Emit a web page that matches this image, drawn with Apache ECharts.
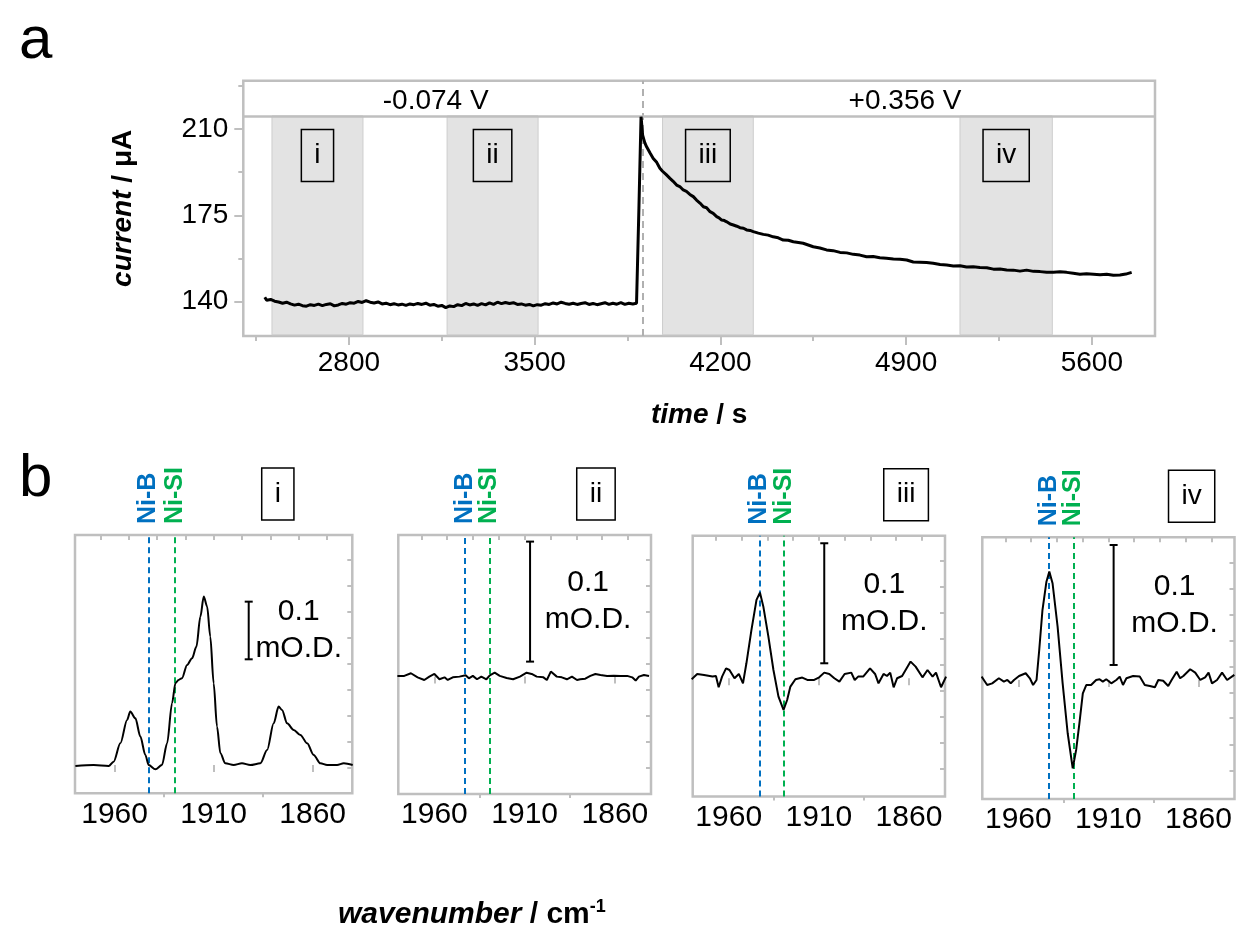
<!DOCTYPE html>
<html>
<head>
<meta charset="utf-8">
<script src="https://cdn.jsdelivr.net/npm/echarts@6/dist/echarts.min.js"></script>
<style>
  html, body { margin: 0; padding: 0; background: #fff; }
  #chart { width: 1236px; height: 929px; }
</style>
</head>
<body>
<div id="chart"></div>
<script>
// ---- panel a: current transient ----
var timeS = [
  2483, 2490, 2505, 2520, 2535, 2550, 2565, 2580, 2595, 2610,
  2625, 2640, 2655, 2670, 2685, 2700, 2715, 2730, 2745, 2760,
  2775, 2790, 2805, 2820, 2835, 2850, 2865, 2880, 2895, 2910,
  2925, 2940, 2955, 2970, 2985, 3000, 3015, 3030, 3045, 3060,
  3075, 3090, 3105, 3120, 3135, 3150, 3165, 3180, 3195, 3210,
  3225, 3240, 3255, 3270, 3285, 3300, 3315, 3330, 3345, 3360,
  3375, 3390, 3405, 3420, 3435, 3450, 3465, 3480, 3495, 3510,
  3525, 3540, 3555, 3570, 3585, 3600, 3615, 3630, 3645, 3660,
  3675, 3690, 3705, 3720, 3735, 3750, 3765, 3780, 3795, 3810,
  3825, 3840, 3855, 3870, 3884, 3893, 3901, 3907, 3915, 3922,
  3935, 3947, 3960, 3972, 3982, 3995, 4010, 4022, 4035, 4047,
  4060, 4072, 4085, 4098, 4110, 4123, 4136, 4148, 4161, 4173,
  4186, 4195, 4205, 4215, 4224, 4237, 4249, 4262, 4274, 4287,
  4299, 4312, 4324, 4343, 4362, 4380, 4399, 4418, 4437, 4456,
  4475, 4494, 4512, 4531, 4550, 4575, 4600, 4625, 4651, 4676,
  4701, 4726, 4751, 4776, 4801, 4826, 4852, 4877, 4902, 4927,
  4952, 4977, 5002, 5028, 5053, 5078, 5103, 5128, 5153, 5178,
  5204, 5229, 5254, 5279, 5304, 5329, 5354, 5380, 5405, 5430,
  5455, 5480, 5505, 5530, 5555, 5580, 5606, 5631, 5656, 5681,
  5706, 5728, 5750
];
var currentUA = [
  141.8, 140.6, 140.9, 140.2, 139.9, 139.4, 139.8, 139.1, 138.6, 139.0,
  138.4, 138.2, 138.8, 138.5, 139.0, 138.4, 138.9, 139.2, 138.3, 138.7,
  139.3, 139.0, 139.6, 139.4, 140.1, 139.7, 140.4, 139.8, 139.5, 139.9,
  139.1, 139.4, 138.8, 139.2, 138.7, 139.0, 138.5, 139.1, 138.8, 139.3,
  138.9, 139.4, 138.6, 138.9, 138.2, 138.5, 137.6, 138.3, 138.0, 138.8,
  138.4, 139.3, 138.7, 139.1, 138.5, 139.2, 138.7, 139.5, 138.9, 139.8,
  139.2, 139.7, 139.3, 139.6, 138.9, 139.1, 138.6, 138.9, 138.3, 138.8,
  138.6, 139.2, 138.9, 139.5, 139.1, 139.8, 139.3, 139.0, 139.4, 138.9,
  139.3, 139.6, 138.9, 139.3, 138.8, 139.2, 139.6, 138.9, 139.4, 139.0,
  139.6, 138.9, 139.4, 139.1, 139.4, 178.0, 215.0, 207.5, 204.5, 202.8,
  200.3, 198.1, 196.5, 194.1, 192.9, 191.6, 190.0, 188.8, 187.3, 186.7,
  185.3, 184.7, 183.5, 182.6, 181.2, 180.0, 178.5, 178.1, 176.5, 175.8,
  174.5, 174.0, 173.1, 172.9, 172.4, 171.5, 171.1, 170.6, 170.0, 169.8,
  169.1, 168.9, 168.4, 167.8, 167.3, 167.0, 166.3, 165.9, 165.0, 164.9,
  164.3, 164.0, 163.7, 163.0, 162.3, 161.8, 161.0, 160.7, 160.0, 159.8,
  159.2, 158.9, 158.2, 158.3, 157.8, 157.6, 157.3, 157.2, 156.9, 156.1,
  156.0, 155.9, 155.6, 155.1, 154.9, 154.5, 154.6, 154.1, 154.2, 153.9,
  153.8, 153.2, 153.3, 152.9, 152.8, 152.4, 152.8, 152.3, 152.2, 151.9,
  151.9, 152.1, 151.9, 151.5, 151.1, 151.3, 151.1, 150.9, 151.1, 150.7,
  150.8, 151.2, 151.9
];
var stepTime = 3908;
var windows = [[2510, 2853, 'i'], [3170, 3513, 'ii'], [3982, 4324, 'iii'], [5103, 5451, 'iv']];
var potentials = [[3127, '-0.074 V'], [4896, '+0.356 V']];
var timeMajor = [2800, 3500, 4200, 4900, 5600];
var timeMinor = [2450, 3150, 3850, 4550, 5250];
var currentMajor = [140, 175, 210];
var currentMinor = [157.5, 192.5, 227.5];

// ---- panel b: IR difference spectra (mO.D.) ----
var wnI = [1979.8, 1970.6, 1963.0, 1960.5, 1957.1, 1953.7, 1952.1, 1949.5, 1947.0, 1944.5,
  1942.8, 1939.4, 1936.1, 1933.5, 1931.0, 1929.3, 1927.7, 1926.0, 1923.4, 1920.9,
  1918.7, 1916.7, 1915.0, 1913.3, 1911.7, 1910.0, 1908.3, 1906.6, 1904.1, 1899.9,
  1895.7, 1891.5, 1886.4, 1883.0, 1879.7, 1877.2, 1875.5, 1872.9, 1869.6, 1866.2,
  1862.8, 1859.5, 1856.1, 1852.7, 1847.7, 1844.3, 1839.8];
var odI = [-0.0017, 0, -0.0017, 0.0058, 0.0376, 0.0781, 0.0926, 0.0810, 0.0492, 0.0174,
  0, -0.0075, 0, 0.0376, 0.1071, 0.1418, 0.1476, 0.1505, 0.1736, 0.1852,
  0.2054, 0.2575, 0.2922, 0.2749, 0.2228, 0.1418, 0.0666, 0.0203, 0.0029, 0,
  0.0029, 0, 0.0029, 0.0260, 0.0723, 0.1013, 0.0955, 0.0723, 0.0608, 0.0521,
  0.0376, 0.0174, 0.0029, 0, 0, 0.0029, 0];

var wnII = [1980.5, 1976.7, 1973.0, 1969.3, 1965.6, 1962.8, 1960.0, 1957.2, 1954.4, 1952.6,
  1949.8, 1946.1, 1942.7, 1940.9, 1938.7, 1936.4, 1934.0, 1931.2, 1929.3, 1926.6,
  1923.8, 1920.0, 1916.4, 1912.6, 1908.9, 1906.1, 1903.3, 1899.6, 1897.7, 1895.5,
  1892.2, 1889.4, 1886.6, 1883.8, 1881.0, 1879.2, 1876.4, 1873.6, 1870.8, 1868.0,
  1864.3, 1860.6, 1856.9, 1853.2, 1850.4, 1848.5, 1846.7, 1843.9, 1841.1];
var odII = [0.0006, 0.0006, 0.0028, -0.0006, -0.0028, 0, 0.0022, -0.0022, -0.0006, -0.0028,
  -0.0006, 0, 0.0011, -0.0014, 0.0006, -0.0022, 0, -0.0022, 0.0011, 0.0033,
  0.0006, -0.0011, -0.0022, 0, 0.0033, 0.0022, 0, -0.0006, -0.0028, 0.0042,
  0, -0.0006, -0.0022, 0, -0.0028, -0.0022, -0.0017, 0.0006, 0.0022, 0.0014,
  0.0006, 0.0008, 0.0006, 0.0006, -0.0006, -0.0033, 0, 0.0014, 0.0006];

var wnIII = [1980.6, 1977.5, 1973.7, 1969.0, 1967.1, 1965.6, 1963.7, 1961.5, 1959.6, 1956.8,
  1954.4, 1952.1, 1950.2, 1947.4, 1944.6, 1942.7, 1940.8, 1938.0, 1935.2, 1932.4,
  1929.6, 1927.6, 1925.8, 1923.0, 1919.2, 1916.4, 1912.6, 1909.8, 1907.0, 1904.2,
  1901.4, 1898.6, 1895.7, 1892.0, 1890.1, 1888.2, 1885.4, 1881.6, 1878.8, 1876.9,
  1874.1, 1872.2, 1870.4, 1868.5, 1866.6, 1863.8, 1859.1, 1856.3, 1852.5, 1849.7,
  1846.9, 1845.0, 1842.2, 1839.4];
var odIII = [-0.0008, 0.0036, 0.0028, 0.0014, 0.0019, -0.0075, 0.0014, 0.0083, 0.0069, 0,
  0.0036, -0.0042, 0.0125, 0.0403, 0.0653, 0.0714, 0.0597, 0.0347, 0.0069, -0.0153,
  -0.0264, -0.0181, -0.0069, -0.0008, 0.0006, -0.0014, -0.0014, 0.0008, 0.0047, 0.0036,
  0, -0.0028, 0.0036, 0.0047, -0.0014, 0.0014, 0.0014, 0.0083, 0.0036, -0.0042,
  0.0036, 0.0019, 0.0047, -0.0075, 0, 0.0019, 0.0139, 0.0097, 0.0008, 0.0069,
  0.0014, 0.0047, -0.0075, 0.0014];

var wnIV = [1980.4, 1977.3, 1974.5, 1970.8, 1968.0, 1966.1, 1964.2, 1962.4, 1959.6, 1955.9,
  1953.6, 1951.8, 1949.9, 1948.4, 1946.6, 1944.4, 1942.8, 1941.0, 1938.2, 1935.4,
  1932.6, 1929.8, 1927.9, 1926.1, 1924.2, 1922.3, 1919.6, 1916.8, 1914.9, 1913.1,
  1911.2, 1908.4, 1905.6, 1903.7, 1901.9, 1900.0, 1896.3, 1892.6, 1889.8, 1887.0,
  1884.2, 1882.3, 1879.6, 1876.8, 1874.9, 1872.1, 1870.2, 1868.4, 1864.6, 1861.8,
  1859.0, 1856.3, 1854.4, 1852.5, 1849.7, 1846.9, 1844.1, 1840.1];
var odIV = [0.0028, -0.0042, -0.0028, 0.0014, -0.0014, 0, -0.0028, 0, 0.0033, 0.0056,
  0.0014, -0.0042, 0, 0.025, 0.0583, 0.0819, 0.0903, 0.0806, 0.0444, -0.0028,
  -0.0444, -0.0736, -0.0583, -0.0361, -0.0111, -0.0042, -0.0042, 0, 0.0006, -0.0014,
  0.0006, -0.0028, 0, 0.0028, -0.0042, 0.0014, 0.0033, 0.0028, -0.0042, -0.005,
  -0.0061, 0, -0.0006, -0.005, 0, 0.0069, 0.0014, 0.0033, 0.0089, 0.0061,
  0, 0.0022, 0.0061, -0.0028, 0, 0.0061, 0, 0.0042];

var niB = 1943, niSI = 1929.5;
var wnMajor = [1960, 1910, 1860];
var wnMinor = [1935, 1885];
var wnTop = [1967.1, 1952.9, 1938.6, 1924.3, 1910, 1895.7, 1881.4, 1867.1, 1852.9];
var odTicksI = [0.3555, 0.3104, 0.2654, 0.2203, 0.1752, 0.1301, 0.0850, 0.0399, -0.0052];
var odTicksII = [0.0972, 0.0755, 0.0538, 0.0322, 0.0105, -0.0112, -0.0328, -0.0545, -0.0762];
var odTicksIII = [0.0980, 0.0763, 0.0546, 0.0330, 0.0113, -0.0104, -0.0320, -0.0537, -0.0754];
var odTicksIV = [0.0981, 0.0764, 0.0547, 0.0331, 0.0114, -0.0103, -0.0319, -0.0536, -0.0753];

var FONT = '"Liberation Sans", Arial, sans-serif';
var GRAY = '#bfbfbf';
var BLUE = '#0070c0';
var GREEN = '#00b050';
var CLEAR = 'rgba(0,0,0,0)';
var headerLevel = 215.3;

var panels = [
  { wn: wnI, od: odI, tag: 'i', yMin: -0.0491, yMax: 0.3989, ticks: odTicksI, bar: [1892.3, 0.1833, 50], boxX: 1877.6, smooth: 0.3,
    grid: { left: 75, top: 535, width: 277.3, height: 258.3 } },
  { wn: wnII, od: odII, tag: 'ii', yMin: -0.0978, yMax: 0.118, ticks: odTicksII, bar: [1907, 0.0125, 58], boxX: 1870.5, smooth: false,
    grid: { left: 398.3, top: 535, width: 252.7, height: 259 } },
  { wn: wnIII, od: odIII, tag: 'iii', yMin: -0.0985, yMax: 0.1188, ticks: odTicksIII, bar: [1907, 0.0125, 60], boxX: 1861.6, smooth: false,
    grid: { left: 692.7, top: 535.7, width: 252.3, height: 260.8 } },
  { wn: wnIV, od: odIV, tag: 'iv', yMin: -0.0992, yMax: 0.1189, ticks: odTicksIV, bar: [1907.1, 0.0125, 61], boxX: 1863.8, smooth: false,
    grid: { left: 982.3, top: 537.3, width: 252.2, height: 261.7 } }
];

function plain(v) { return String(v); }

var chart = echarts.init(document.getElementById('chart'));

var grids = [{ left: 243.3, top: 80.7, width: 911.7, height: 255.3, show: true, borderColor: GRAY, borderWidth: 2.5 }];
var xAxes = [
  { gridIndex: 0, type: 'value', position: 'bottom', min: 2402, max: 5838, axisLine: { show: false }, splitLine: { show: false },
    axisTick: { customValues: timeMajor, length: 9, lineStyle: { color: GRAY, width: 2 } },
    axisLabel: { customValues: timeMajor, formatter: plain, fontSize: 28, color: '#000', margin: 13 },
    name: '{it|time} / s', nameLocation: 'middle', nameGap: 65,
    nameTextStyle: { fontSize: 28, fontWeight: 'bold', color: '#000',
      rich: { it: { fontSize: 28, fontWeight: 'bold', fontStyle: 'italic', color: '#000' } } } },
  { gridIndex: 0, type: 'value', position: 'bottom', min: 2402, max: 5838, axisLine: { show: false }, splitLine: { show: false },
    axisTick: { customValues: timeMinor, length: 5, lineStyle: { color: GRAY, width: 2 } },
    axisLabel: { show: false } }
];
var yAxes = [
  { gridIndex: 0, type: 'value', position: 'left', min: 126.1, max: 229.6, axisLine: { show: false }, splitLine: { show: false },
    axisTick: { customValues: currentMajor, length: 9, lineStyle: { color: GRAY, width: 2 } },
    axisLabel: { customValues: currentMajor, formatter: plain, fontSize: 28, color: '#000', margin: 15 },
    name: '{it|current} / \u03bcA', nameLocation: 'middle', nameGap: 106, nameRotate: 90,
    nameTextStyle: { fontSize: 28, fontWeight: 'bold', color: '#000',
      rich: { it: { fontSize: 28, fontWeight: 'bold', fontStyle: 'italic', color: '#000' } } } },
  { gridIndex: 0, type: 'value', position: 'left', min: 126.1, max: 229.6, axisLine: { show: false }, splitLine: { show: false },
    axisTick: { customValues: currentMinor, length: 5, lineStyle: { color: GRAY, width: 2 } },
    axisLabel: { show: false } }
];

var series = [
  {
    type: 'line', xAxisIndex: 0, yAxisIndex: 0, z: 5,
    data: timeS.map(function (t, i) { return [t, currentUA[i]]; }),
    symbol: 'none', lineStyle: { color: '#000', width: 3 },
    markArea: {
      silent: true, label: { show: false },
      itemStyle: { color: '#e3e3e3', borderColor: '#cdcdcd', borderWidth: 1 },
      data: windows.map(function (w) { return [{ xAxis: w[0], yAxis: 126.6 }, { xAxis: w[1], yAxis: headerLevel }]; })
    },
    markLine: {
      silent: true, symbol: 'none', label: { show: false },
      data: [
        { xAxis: stepTime, lineStyle: { type: [7, 5], color: '#b0b0b0', width: 2 } },
        { yAxis: headerLevel, lineStyle: { type: 'solid', color: GRAY, width: 2.5 } }
      ]
    }
  },
  {
    type: 'scatter', xAxisIndex: 0, yAxisIndex: 0, silent: true, clip: false, z: 6,
    symbolSize: 2, itemStyle: { color: CLEAR, opacity: 1 },
    data: windows.map(function (w) { return [(w[0] + w[1]) / 2, 199.3, w[2]]; }),
    label: { show: true, position: 'inside', formatter: function (p) { return p.data[2]; },
      fontSize: 28, color: '#000', lineHeight: 32, borderColor: '#000', borderWidth: 1.5, padding: [10, 13] }
  },
  {
    type: 'scatter', xAxisIndex: 0, yAxisIndex: 0, silent: true, clip: false, z: 6,
    symbolSize: 2, itemStyle: { color: CLEAR, opacity: 1 },
    data: potentials.map(function (p) { return [p[0], 221.4, p[1]]; }),
    label: { show: true, position: 'inside', formatter: function (p) { return p.data[2]; },
      fontSize: 28, color: '#000' }
  }
];

function renderScaleBar(params, api) {
  var p0 = api.coord([api.value(0), api.value(1)]);
  var p1 = api.coord([api.value(0), api.value(1) + 0.1]);
  var dx = api.value(2);
  var cap = 4;
  var ls = { stroke: '#000', lineWidth: 2 };
  return {
    type: 'group',
    children: [
      { type: 'line', shape: { x1: p0[0], y1: p0[1], x2: p1[0], y2: p1[1] }, style: ls },
      { type: 'line', shape: { x1: p0[0] - cap, y1: p0[1], x2: p0[0] + cap, y2: p0[1] }, style: ls },
      { type: 'line', shape: { x1: p1[0] - cap, y1: p1[1], x2: p1[0] + cap, y2: p1[1] }, style: ls },
      { type: 'text', x: p0[0] + dx, y: (p0[1] + p1[1]) / 2,
        style: { text: '0.1\nmO.D.', fill: '#000', fontSize: 30, fontFamily: FONT, lineHeight: 37,
          align: 'center', verticalAlign: 'middle' } }
    ]
  };
}

panels.forEach(function (pn, k) {
  var g = k + 1;
  grids.push(Object.assign({ show: true, borderColor: GRAY, borderWidth: 2.5 }, pn.grid));
  var xi = xAxes.length;
  var base = { gridIndex: g, type: 'value', inverse: true, min: 1840, max: 1980,
    axisLine: { show: false }, splitLine: { show: false } };
  xAxes.push(Object.assign({}, base, { position: 'bottom',
    axisTick: { customValues: wnMajor, length: 7, lineStyle: { color: GRAY, width: 2 } },
    axisLabel: { customValues: wnMajor, formatter: plain, fontSize: 30, color: '#000', margin: 6 } }));
  xAxes.push(Object.assign({}, base, { position: 'bottom',
    axisTick: { customValues: wnMinor, length: 4, lineStyle: { color: GRAY, width: 2 } },
    axisLabel: { show: false } }));
  xAxes.push(Object.assign({}, base, { position: 'top',
    axisTick: { inside: true, customValues: wnTop, length: 5, lineStyle: { color: GRAY, width: 2 } },
    axisLabel: { show: false } }));
  var yi = yAxes.length;
  yAxes.push({ gridIndex: g, type: 'value', position: 'right', min: pn.yMin, max: pn.yMax,
    axisLine: { show: false }, splitLine: { show: false },
    axisTick: { inside: true, customValues: pn.ticks, length: 5, lineStyle: { color: GRAY, width: 2 } },
    axisLabel: { show: false } });

  series.push({
    type: 'line', xAxisIndex: xi, yAxisIndex: yi, z: 5,
    data: pn.wn.map(function (w, i) { return [w, pn.od[i]]; }),
    symbol: 'none', smooth: pn.smooth, smoothMonotone: 'x',
    lineStyle: { color: '#000', width: 2 },
    markLine: {
      silent: true, symbol: 'none', label: { show: false },
      data: [
        { xAxis: niB, lineStyle: { type: [6, 4], color: BLUE, width: 2 } },
        { xAxis: niSI, lineStyle: { type: [6, 4], color: GREEN, width: 2 } }
      ]
    }
  });
  series.push({
    type: 'scatter', xAxisIndex: xi, yAxisIndex: yi, silent: true, clip: false, z: 6,
    symbolSize: 2, itemStyle: { color: CLEAR, opacity: 1 },
    data: [
      { value: [niB, pn.yMax], label: { formatter: 'Ni-B', color: BLUE } },
      { value: [niSI, pn.yMax], label: { formatter: 'Ni-SI', color: GREEN } }
    ],
    label: { show: true, position: [1, -10], rotate: 90, align: 'left', verticalAlign: 'middle',
      fontSize: 25, fontWeight: 'bold' }
  });
  series.push({
    type: 'scatter', xAxisIndex: xi, yAxisIndex: yi, silent: true, clip: false, z: 6,
    symbolSize: 2, itemStyle: { color: CLEAR, opacity: 1 },
    data: [[pn.boxX, pn.yMax, pn.tag]],
    label: { show: true, position: [1, -40], align: 'center', verticalAlign: 'middle',
      formatter: function (p) { return p.data[2]; },
      fontSize: 28, color: '#000', lineHeight: 32, borderColor: '#000', borderWidth: 1.5, padding: [10, 13] }
  });
  series.push({
    type: 'custom', xAxisIndex: xi, yAxisIndex: yi, silent: true, z: 6,
    renderItem: renderScaleBar,
    data: [pn.bar]
  });
});

chart.setOption({
  animation: false,
  backgroundColor: '#fff',
  textStyle: { fontFamily: FONT, color: '#000' },
  title: [
    { text: 'a', left: 14, top: 6, textStyle: { fontSize: 60, fontWeight: 'normal', color: '#000', fontFamily: FONT } },
    { text: 'b', left: 14, top: 444, textStyle: { fontSize: 60, fontWeight: 'normal', color: '#000', fontFamily: FONT } },
    { text: '{b|wavenumber}{n| / cm}{s|-1}', left: 333, top: 893,
      textStyle: { fontFamily: FONT, rich: {
        b: { fontSize: 30, fontWeight: 'bold', fontStyle: 'italic', color: '#000', fontFamily: FONT, lineHeight: 34 },
        n: { fontSize: 30, fontWeight: 'bold', color: '#000', fontFamily: FONT, lineHeight: 34 },
        s: { fontSize: 18, fontWeight: 'bold', color: '#000', fontFamily: FONT, lineHeight: 34, verticalAlign: 'top', padding: [0, 0, 14, 0] }
      } } }
  ],
  grid: grids,
  xAxis: xAxes,
  yAxis: yAxes,
  series: series
});
</script>
</body>
</html>
